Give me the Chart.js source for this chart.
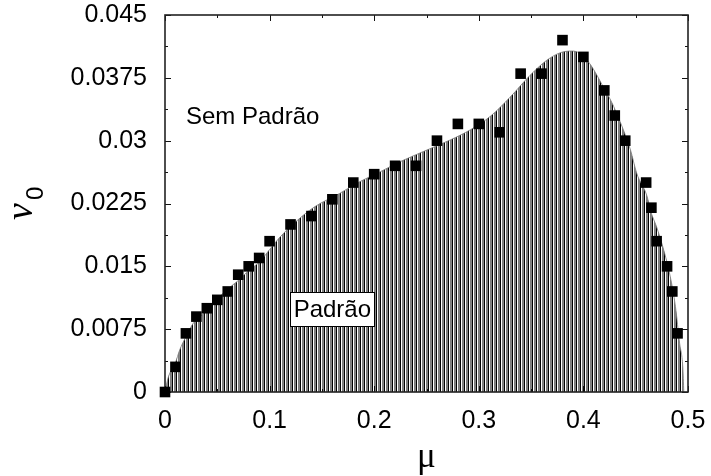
<!DOCTYPE html>
<html>
<head>
<meta charset="utf-8">
<script src="https://cdn.jsdelivr.net/npm/chart.js@4/dist/chart.umd.min.js"></script>
<style>
  html, body { margin: 0; padding: 0; background: #fff; }
  canvas { display: block; }
</style>
</head>
<body>
<canvas id="c" width="711" height="476"></canvas>
<script>
// Measured points (black squares): chemical potential mu vs threshold v0
const muData = [0, 0.01, 0.02, 0.03, 0.04, 0.05, 0.06, 0.07, 0.08, 0.09, 0.10,
  0.12, 0.14, 0.16, 0.18, 0.20, 0.22, 0.24, 0.26, 0.28, 0.30, 0.32, 0.34, 0.36,
  0.38, 0.40, 0.42, 0.43, 0.44, 0.46, 0.465, 0.47, 0.48, 0.485, 0.49];
const v0Data = [0, 0.003, 0.007, 0.009, 0.010, 0.011, 0.012, 0.014, 0.015, 0.016, 0.018,
  0.020, 0.021, 0.023, 0.025, 0.026, 0.027, 0.027, 0.030, 0.032, 0.032, 0.031, 0.038, 0.038,
  0.042, 0.040, 0.036, 0.033, 0.030, 0.025, 0.022, 0.018, 0.015, 0.012, 0.007];

// Boundary of the patterned region ("Padrão")
const curveMu = [0, 0.003, 0.01, 0.014, 0.02, 0.027, 0.037, 0.046, 0.059, 0.069, 0.081,
  0.091, 0.10, 0.11, 0.123, 0.143, 0.167, 0.183, 0.206, 0.225, 0.247, 0.273, 0.292,
  0.311, 0.33, 0.349, 0.365, 0.378, 0.389, 0.397, 0.406, 0.413, 0.419, 0.427, 0.435,
  0.445, 0.451, 0.461, 0.464, 0.47, 0.476, 0.483, 0.488, 0.492, 0.495, 0.496];
const curveV0 = [0, 0.0017, 0.0035, 0.005, 0.0066, 0.0082, 0.0094, 0.0106, 0.0122, 0.0132, 0.0146,
  0.0156, 0.017, 0.0185, 0.0201, 0.0221, 0.0237, 0.0249, 0.0263, 0.0275, 0.0287, 0.0301, 0.0313,
  0.0329, 0.0352, 0.0378, 0.0396, 0.0405, 0.0407, 0.0404, 0.0392, 0.0378, 0.0364, 0.0346, 0.0323,
  0.0289, 0.0261, 0.0233, 0.0217, 0.0197, 0.0173, 0.0138, 0.0102, 0.0058, 0.003, 0];

// Tick labels (labels on every other tick; the rest are minor ticks)
const xTickLabels = ['0', '0.1', '0.2', '0.3', '0.4', '0.5'];
const yTickLabels = ['0', '0.0075', '0.015', '0.0225', '0.03', '0.0375', '0.045'];

// Region labels, anchored in data coordinates
const regionLabels = [
  { text: 'Sem Padrão', mu: 0.02, v0: 0.0328, boxed: false },
  { text: 'Padrão', mu: 0.16, v0: 0.0099, boxed: true }
];

const FONT = '"Liberation Sans", Arial, Helvetica, sans-serif';

function stripePattern() {
  const c = document.createElement('canvas');
  c.width = 4; c.height = 4;
  const g = c.getContext('2d');
  const cols = ['#000000', '#ffffff', '#7c7c7c', '#858585'];
  cols.forEach((col, i) => { g.fillStyle = col; g.fillRect(i, 0, 1, 4); });
  return g.createPattern(c, 'repeat');
}

const decor = {
  id: 'decor',
  afterDatasetDraw(chart, args) {
    if (args.index !== 1) return;
    const { ctx, chartArea: a, scales: { x, y } } = chart;
    ctx.save();
    ctx.strokeStyle = '#111';
    ctx.lineWidth = 1;
    ctx.beginPath();
    x.ticks.forEach((t, i) => {
      const px = Math.round(x.getPixelForValue(t.value)) + 0.5;
      const len = i % 2 === 0 ? 6 : 3;
      ctx.moveTo(px, a.bottom); ctx.lineTo(px, a.bottom - len);
      ctx.moveTo(px, a.top); ctx.lineTo(px, a.top + len);
    });
    y.ticks.forEach((t, i) => {
      const py = Math.round(y.getPixelForValue(t.value)) + 0.5;
      const len = i % 2 === 0 ? 6 : 3;
      ctx.moveTo(a.left, py); ctx.lineTo(a.left + len, py);
      ctx.moveTo(a.right, py); ctx.lineTo(a.right - len, py);
    });
    ctx.stroke();

    // frame
    ctx.lineWidth = 1.6;
    ctx.strokeStyle = '#222';
    ctx.strokeRect(a.left, a.top, a.right - a.left, a.bottom - a.top);

    // region labels
    ctx.font = '24px ' + FONT;
    ctx.textBaseline = 'middle';
    regionLabels.forEach(l => {
      const px = x.getPixelForValue(l.mu);
      const py = y.getPixelForValue(l.v0);
      if (l.boxed) {
        const w = ctx.measureText(l.text).width + 7;
        const h = 34;
        ctx.fillStyle = '#fff';
        ctx.fillRect(px - w / 2, py - h / 2, w, h);
        ctx.lineWidth = 1;
        ctx.strokeStyle = '#000';
        ctx.strokeRect(Math.round(px - w / 2) + 0.5, Math.round(py - h / 2) + 0.5, Math.round(w), h);
        ctx.fillStyle = '#000';
        ctx.textAlign = 'center';
        ctx.fillText(l.text, px, py + 1);
      } else {
        ctx.fillStyle = '#000';
        ctx.textAlign = 'left';
        ctx.fillText(l.text, px, py);
      }
    });
    ctx.restore();
  },
  afterDraw(chart) {
    const { ctx, chartArea: a } = chart;
    ctx.save();
    ctx.fillStyle = '#000';
    // x axis title
    ctx.font = '35px "Liberation Serif", "DejaVu Serif", serif';
    ctx.textAlign = 'center';
    ctx.textBaseline = 'alphabetic';
    ctx.fillText('μ', (a.left + a.right) / 2, 467);
    // y axis title: italic v with subscript 0, rotated
    ctx.translate(28, (a.top + a.bottom) / 2);
    ctx.rotate(-Math.PI / 2);
    ctx.textAlign = 'left';
    ctx.font = 'italic 38px "Liberation Serif", "DejaVu Serif", serif';
    ctx.fillText('v', -16.5, 4);
    ctx.font = '24px ' + FONT;
    ctx.fillText('0', 3.5, 15);
    ctx.restore();
  }
};

const pattern = stripePattern();

new Chart(document.getElementById('c'), {
  type: 'scatter',
  data: {
    datasets: [
      {
        label: 'v0',
        data: muData.map((m, i) => ({ x: m, y: v0Data[i] })),
        pointStyle: 'rect',
        pointRadius: 7.5,
        pointBackgroundColor: '#000',
        pointBorderWidth: 0,
        showLine: false,
        clip: false,
        order: 0
      },
      {
        type: 'line',
        label: 'Padrão',
        data: curveMu.map((m, i) => ({ x: m, y: curveV0[i] })),
        fill: 'origin',
        backgroundColor: pattern,
        borderColor: 'rgba(120,120,120,0.8)',
        borderWidth: 1,
        pointRadius: 0,
        cubicInterpolationMode: 'monotone',
        order: 1
      }
    ]
  },
  options: {
    responsive: false,
    devicePixelRatio: 1,
    animation: false,
    layout: { padding: { top: 15, right: 23, bottom: 0, left: 0 } },
    plugins: { legend: { display: false }, tooltip: { enabled: false } },
    scales: {
      x: {
        type: 'linear',
        min: 0, max: 0.5,
        grid: { display: false, drawTicks: false },
        border: { display: false },
        afterFit: s => { s.height = 84; s.paddingLeft = 0; s.paddingRight = 0; },
        ticks: {
          stepSize: 0.05,
          autoSkip: false,
          maxRotation: 0,
          padding: 14,
          color: '#000',
          font: { family: FONT, size: 25 },
          callback: (v, i) => (i % 2 === 0 ? xTickLabels[i / 2] : '')
        }
      },
      y: {
        type: 'linear',
        min: 0, max: 0.045,
        grid: { display: false, drawTicks: false },
        border: { display: false },
        afterFit: s => { s.width = 165; s.paddingTop = 0; s.paddingBottom = 0; },
        ticks: {
          stepSize: 0.00375,
          autoSkip: false,
          padding: 18,
          color: '#000',
          font: { family: FONT, size: 25 },
          callback: (v, i) => (i % 2 === 0 ? yTickLabels[i / 2] : '')
        }
      }
    }
  },
  plugins: [decor]
});
</script>
</body>
</html>
